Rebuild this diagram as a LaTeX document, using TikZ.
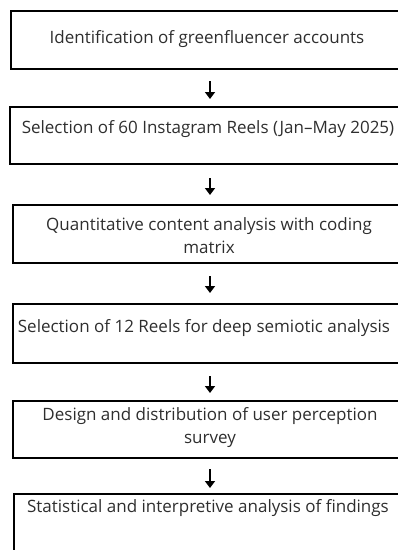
\documentclass[tikz,border=0pt]{standalone}
\usepackage{fontspec}
\setmainfont{Open Sans}
\usetikzlibrary{arrows.meta}
\definecolor{txt}{HTML}{2E2E2E}
\tikzset{
  box/.style={draw=black, line width=2pt, rectangle, inner sep=0pt, anchor=north west},
  lbl/.style={text=txt, font=\fontsize{17}{23}\selectfont, align=center, inner sep=0pt, anchor=center},
  arr/.style={draw=black, line width=1.8pt, -{Triangle[length=7pt,width=10pt]}}
}
\begin{document}
\begin{tikzpicture}[x=1pt,y=-1pt]
\useasboundingbox (0,0) rectangle (398,550);
\clip (0,0) rectangle (398,550);
\coordinate (ax) at (210,0);
% boxes
\node[box, minimum width=400pt, minimum height=58pt] (b1) at (10,10) {};
\node[box, minimum width=400pt, minimum height=57pt] (b2) at (9,106) {};
\node[box, minimum width=400pt, minimum height=58pt] (b3) at (12,204) {};
\node[box, minimum width=400pt, minimum height=59pt] (b4) at (12,303) {};
\node[box, minimum width=400pt, minimum height=57pt] (b5) at (12,400) {};
\node[box, minimum width=400pt, minimum height=80pt] (b6) at (13,493) {};
% labels
\node[lbl] (t1) at (207,39) {Identification of greenfluencer accounts};
\node[lbl] (t2) at (208,129) {Selection of 60 Instagram Reels (Jan--May 2025)};
\node[lbl] (t3) at (209,236) {Quantitative content analysis with coding\\matrix};
\node[lbl] (t4) at (204,328) {Selection of 12 Reels for deep semiotic analysis};
\node[lbl] (t5) at (210,428) {Design and distribution of user perception\\survey};
\node[lbl] (t6) at (208,508) {Statistical and interpretive analysis of findings};
% arrows
\draw[arr, shorten <=11pt, shorten >=7pt] (b1.south -| ax) -- (b2.north -| ax);
\draw[arr, shorten <=13pt, shorten >=9pt] (b2.south -| ax) -- (b3.north -| ax);
\draw[arr, shorten <=12pt, shorten >=10pt] (b3.south -| ax) -- (b4.north -| ax);
\draw[arr, shorten <=12pt, shorten >=7pt] (b4.south -| ax) -- (b5.north -| ax);
\draw[arr, shorten <=10pt, shorten >=5pt] (b5.south -| ax) -- (b6.north -| ax);
\end{tikzpicture}
\end{document}
